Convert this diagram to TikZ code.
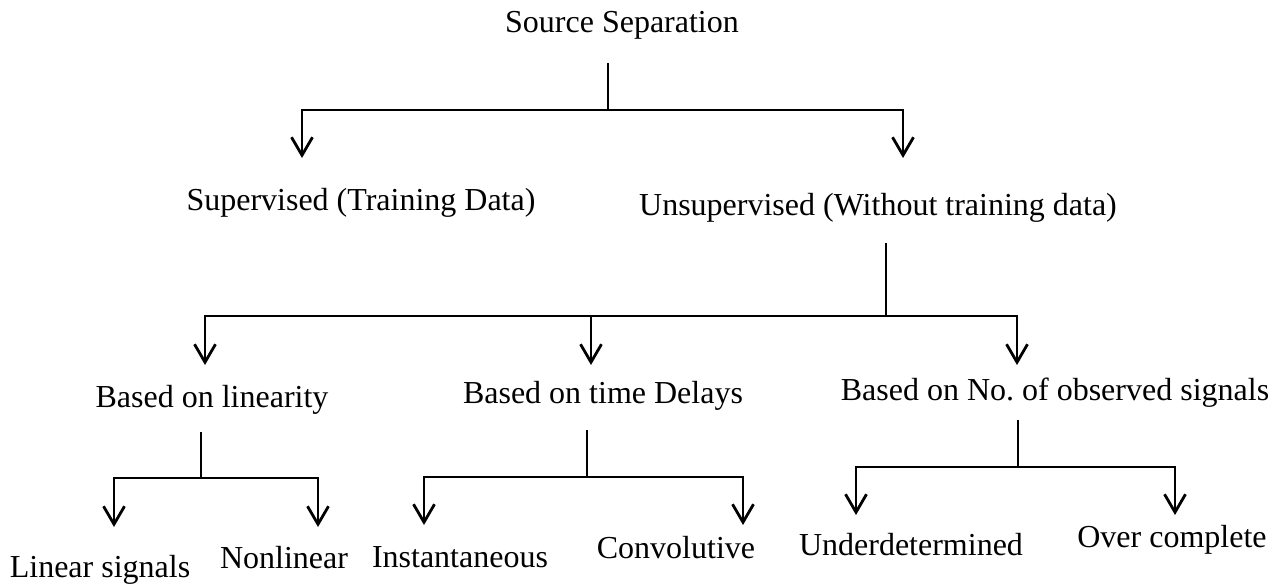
\documentclass[tikz,border=0pt]{standalone}
\usepackage{fontspec}
\setmainfont{Liberation Serif}
\usepackage{tikz}
\usetikzlibrary{arrows.meta,calc,positioning}

\tikzset{
  lbl/.style={inner sep=0pt, anchor=base, font=\fontsize{16}{19}\selectfont},
  branch/.style={line width=1.4pt},
  down/.style={branch, -{Straight Barb[length=9pt,width=10.5pt,line width=1.4pt]}},
}

\begin{document}
\begin{tikzpicture}[x=0.5pt,y=-0.5pt]
\useasboundingbox (0,0) rectangle (1283,586);

% root
\node[lbl] (src) at (622,32) {Source Separation};
\coordinate (s0) at (608,63);
\coordinate (j0) at (608,110);
\coordinate (t1) at (302,158);
\coordinate (t2) at (903,158);
\draw[branch] (s0) -- (j0);
\draw[down] (j0) -| (t1);
\draw[down] (j0) -| (t2);

% first split
\node[lbl] (sup) at (361,210) {Supervised (Training Data)};
\node[lbl] (uns) at (878,215) {Unsupervised (Without training data)};
\coordinate (s1) at (886,243);
\coordinate (j1) at (886,316);
\coordinate (t11) at (205,365);
\coordinate (t12) at (591,365);
\coordinate (t13) at (1017,365);
\draw[branch] (s1) -- (j1);
\draw[down] (j1) -| (t11);
\draw[down] (t12 |- j1) -- (t12);
\draw[down] (j1) -| (t13);

% second split
\node[lbl] (lin) at (212,407) {Based on linearity};
\node[lbl] (del) at (603,403) {Based on time Delays};
\node[lbl] (obs) at (1055,400) {Based on No.\ of observed signals};

% linearity
\coordinate (sl) at (201,432);
\coordinate (jl) at (201,478);
\coordinate (tl1) at (114,527);
\coordinate (tl2) at (318,527);
\draw[branch] (sl) -- (jl);
\draw[down] (jl) -| (tl1);
\draw[down] (jl) -| (tl2);

% time delays
\coordinate (sd) at (587,430);
\coordinate (jd) at (587,477);
\coordinate (td1) at (424,525);
\coordinate (td2) at (743,525);
\draw[branch] (sd) -- (jd);
\draw[down] (jd) -| (td1);
\draw[down] (jd) -| (td2);

% observed signals
\coordinate (so) at (1018,420);
\coordinate (jo) at (1018,467);
\coordinate (to1) at (856,515);
\coordinate (to2) at (1175,515);
\draw[branch] (so) -- (jo);
\draw[down] (jo) -| (to1);
\draw[down] (jo) -| (to2);

% leaves
\node[lbl] (linear) at (100,577) {Linear signals};
\node[lbl] (nonlin) at (284,568) {Nonlinear};
\node[lbl] (inst) at (460,567) {Instantaneous};
\node[lbl] (conv) at (676,558) {Convolutive};
\node[lbl] (under) at (911,555) {Underdetermined};
\node[lbl] (over) at (1172,547) {Over complete};
\end{tikzpicture}
\end{document}
